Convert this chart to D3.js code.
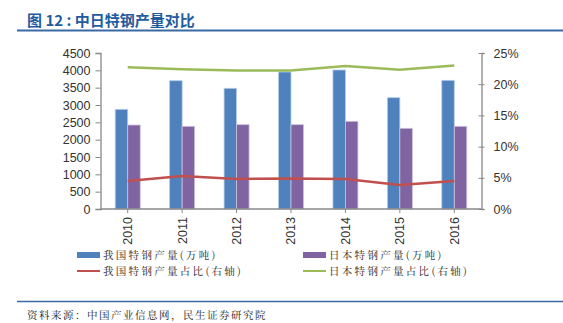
<!DOCTYPE html>
<html><head><meta charset="utf-8">
<script src="https://cdn.jsdelivr.net/npm/d3@7"></script>
<style>body{margin:0;background:#fff;}svg{display:block;}</style>
</head><body>
<script>
const years = ["2010","2011","2012","2013","2014","2015","2016"];
const chinaOutput = [2876, 3701, 3482, 3952, 4010, 3211, 3712];
const japanOutput = [2423, 2385, 2432, 2432, 2529, 2328, 2385];
const chinaShare = [4.5, 5.3, 4.8, 4.9, 4.8, 3.85, 4.5];
const japanShare = [22.7, 22.4, 22.2, 22.2, 22.9, 22.3, 23.0];
const leftTicks = [0,500,1000,1500,2000,2500,3000,3500,4000,4500];
const rightTicks = [0,5,10,15,20,25];
const seriesNames = ["我国特钢产量(万吨)","日本特钢产量(万吨)","我国特钢产量占比(右轴)","日本特钢产量占比(右轴)"];
const colors = {blue:"#4F81BD", purple:"#8064A2", red:"#C0504D", green:"#9BBB59"};

const W=563,H=323;
const svg=d3.select("body").append("svg").attr("width",W).attr("height",H);
const L=100.5,R=481.5,T=53,B=209;
const x=d3.scaleBand().domain(years).range([L,R]).paddingInner(0).paddingOuter(0);
const yL=d3.scaleLinear().domain([0,4500]).range([B,T]);
const yR=d3.scaleLinear().domain([0,25]).range([B,T]);

// title
svg.append("text").attr("x",27).attr("y",26).attr("fill","#1F5C9E")
  .attr("font-family","'Noto Sans CJK SC',sans-serif").attr("font-weight","bold").attr("font-size",15)
  .text("图 12 : 中日特钢产量对比");
svg.append("line").attr("x1",17).attr("x2",563).attr("y1",30.5).attr("y2",30.5).attr("stroke","#3A6AA3").attr("stroke-width",2);

// bars
const bw=12.5;
const g=svg.append("g");
g.selectAll("rect.c").data(years).enter().append("rect")
  .attr("x",d=>x(d)+x.bandwidth()/2-bw).attr("width",bw)
  .attr("y",(d,i)=>yL(chinaOutput[i])).attr("height",(d,i)=>B-yL(chinaOutput[i]))
  .attr("fill",colors.blue).attr("stroke","#B9CDE5").attr("stroke-width",0.8);
g.selectAll("rect.j").data(years).enter().append("rect")
  .attr("x",d=>x(d)+x.bandwidth()/2).attr("width",bw)
  .attr("y",(d,i)=>yL(japanOutput[i])).attr("height",(d,i)=>B-yL(japanOutput[i]))
  .attr("fill",colors.purple).attr("stroke","#CCC1DA").attr("stroke-width",0.8);

// lines
const line=d3.line().x((d,i)=>x(years[i])+x.bandwidth()/2).y(d=>yR(d));
svg.append("path").datum(chinaShare).attr("d",line).attr("fill","none").attr("stroke",colors.red).attr("stroke-width",2.5);
svg.append("path").datum(japanShare).attr("d",line).attr("fill","none").attr("stroke",colors.green).attr("stroke-width",2.5);

// axes
const axisColor="#888";
const font="Arial,'Liberation Sans',sans-serif";
const ax1=svg.append("g").attr("transform",`translate(${L},0)`).call(d3.axisLeft(yL).tickValues(leftTicks).tickSize(5).tickPadding(5).tickFormat(d3.format("d")));
const ax2=svg.append("g").attr("transform",`translate(${R},0)`).call(d3.axisRight(yR).tickValues(rightTicks).tickSize(3).tickPadding(9).tickFormat(d=>d+"%"));
const ax3=svg.append("g").attr("transform",`translate(0,${B})`).call(d3.axisBottom(x).tickSize(4).tickPadding(4));
[ax1,ax2,ax3].forEach(a=>{
  a.select(".domain").attr("stroke",axisColor).attr("stroke-width",1.3);
  a.selectAll(".tick line").attr("stroke",axisColor);
  a.selectAll("text").attr("font-family",font).attr("font-size",12.5).attr("fill","#333");
});
ax2.selectAll(".tick line").attr("x1",-3).attr("x2",3);
ax3.select(".domain").attr("d",`M${L},0H${R}`);
ax3.selectAll(".tick text").attr("transform","rotate(-90)").attr("text-anchor","end")
  .attr("x",-8).attr("y",0).attr("dy","0.35em");

// legend
const lf="'Noto Serif CJK SC','Noto Sans CJK SC',sans-serif";
const leg=[{x:77,y:255,c:colors.blue,t:"bar"},{x:303,y:255,c:colors.purple,t:"bar"},{x:77,y:271,c:colors.red,t:"line"},{x:303,y:271,c:colors.green,t:"line"}];
leg.forEach((l,i)=>{
  if(l.t==="bar") svg.append("rect").attr("x",l.x).attr("y",l.y-3).attr("width",23).attr("height",6).attr("fill",l.c);
  else svg.append("line").attr("x1",l.x).attr("x2",l.x+23).attr("y1",l.y).attr("y2",l.y).attr("stroke",l.c).attr("stroke-width",2);
  svg.append("text").attr("x",l.x+26).attr("y",l.y).attr("dy","0.35em").attr("font-family",lf).attr("font-size",10.5)
    .attr("letter-spacing",2.3).attr("fill","#222").text(seriesNames[i]);
});

// footer
svg.append("line").attr("x1",17).attr("x2",563).attr("y1",301.5).attr("y2",301.5).attr("stroke","#3A6AA3").attr("stroke-width",1.5);
svg.append("text").attr("x",27).attr("y",319).attr("font-family",lf).attr("font-size",10.5).attr("letter-spacing",1.5).attr("fill","#222").text("资料来源：中国产业信息网，民生证券研究院");
</script>
</body></html>
